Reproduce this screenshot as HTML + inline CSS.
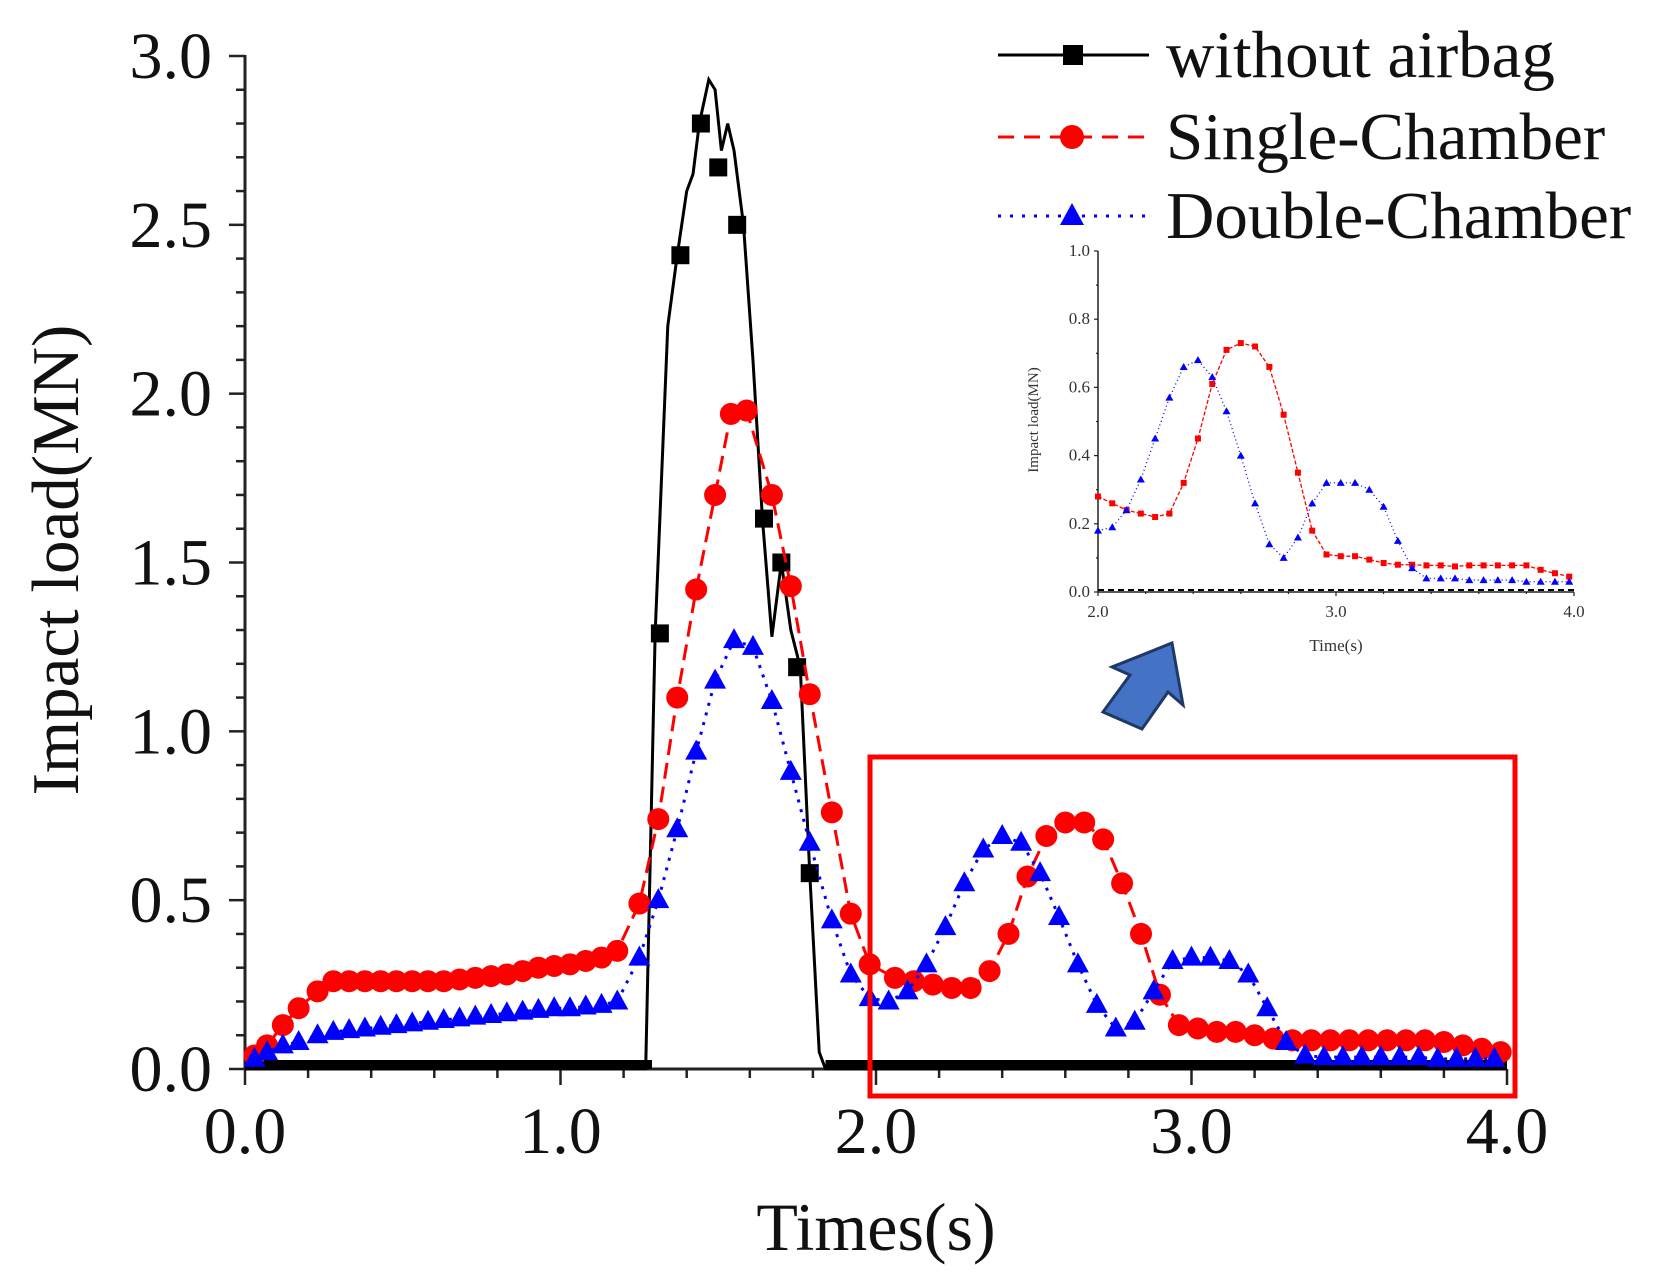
<!DOCTYPE html>
<html><head><meta charset="utf-8"><style>
html,body{margin:0;padding:0;background:#fff;width:1653px;height:1282px;overflow:hidden}
svg{display:block;font-family:"Liberation Serif",serif}
</style></head><body>
<svg id="chart" width="1653" height="1282" viewBox="0 0 1653 1282" xmlns="http://www.w3.org/2000/svg"></svg>
<script>
// ---- data ----
const blackT = [0,1.27,1.30,1.34,1.37,1.40,1.42,1.44,1.47,1.49,1.51,1.53,1.55,1.58,1.61,1.64,1.67,1.70,1.73,1.76,1.79,1.82,1.84,4.0];
const blackV = [0,0,1.29,2.2,2.41,2.6,2.65,2.8,2.93,2.9,2.72,2.8,2.72,2.5,2.1,1.63,1.28,1.5,1.3,1.19,0.58,0.05,0,0];
const blackMarkT = [1.315,1.38,1.445,1.50,1.56,1.645,1.70,1.75,1.79];
const blackMarkV = [1.29,2.41,2.80,2.67,2.50,1.63,1.50,1.19,0.58];
const redT = [0.03,0.07,0.12,0.17,0.23,0.28,0.33,0.38,0.43,0.48,0.53,0.58,0.63,0.68,0.73,0.78,0.83,0.88,0.93,0.98,1.03,1.08,1.13,1.18,1.25,1.31,1.37,1.43,1.49,1.54,1.59,1.67,1.73,1.79,1.86,1.92,1.98,2.06,2.12,2.18,2.24,2.30,2.36,2.42,2.48,2.54,2.60,2.66,2.72,2.78,2.84,2.90,2.96,3.02,3.08,3.14,3.20,3.26,3.32,3.38,3.44,3.50,3.56,3.62,3.68,3.74,3.80,3.86,3.92,3.98];
const redV = [0.04,0.07,0.13,0.18,0.23,0.26,0.26,0.26,0.26,0.26,0.26,0.26,0.26,0.265,0.27,0.275,0.28,0.29,0.30,0.305,0.31,0.32,0.33,0.35,0.49,0.74,1.10,1.42,1.70,1.94,1.95,1.70,1.43,1.11,0.76,0.46,0.31,0.27,0.26,0.25,0.24,0.24,0.29,0.40,0.57,0.69,0.73,0.73,0.68,0.55,0.40,0.22,0.13,0.12,0.11,0.11,0.10,0.09,0.085,0.085,0.085,0.085,0.085,0.085,0.085,0.085,0.08,0.07,0.06,0.05];
const blueT = [0.03,0.07,0.12,0.17,0.23,0.28,0.33,0.38,0.43,0.48,0.53,0.58,0.63,0.68,0.73,0.78,0.83,0.88,0.93,0.98,1.03,1.08,1.13,1.18,1.25,1.31,1.37,1.43,1.49,1.55,1.61,1.67,1.73,1.79,1.86,1.92,1.98,2.04,2.10,2.16,2.22,2.28,2.34,2.40,2.46,2.52,2.58,2.64,2.70,2.76,2.82,2.88,2.94,3.00,3.06,3.12,3.18,3.24,3.30,3.36,3.42,3.48,3.54,3.60,3.66,3.72,3.78,3.84,3.90,3.96];
const blueV = [0.03,0.05,0.07,0.08,0.10,0.11,0.115,0.12,0.125,0.13,0.135,0.14,0.145,0.15,0.155,0.16,0.165,0.17,0.175,0.18,0.18,0.185,0.19,0.20,0.33,0.50,0.71,0.94,1.15,1.27,1.25,1.09,0.88,0.67,0.44,0.28,0.21,0.20,0.23,0.31,0.42,0.55,0.65,0.69,0.67,0.58,0.45,0.31,0.19,0.12,0.14,0.23,0.32,0.33,0.33,0.32,0.28,0.18,0.08,0.04,0.035,0.035,0.035,0.035,0.035,0.035,0.03,0.03,0.03,0.03];
const insetRedT = [2.0,2.06,2.12,2.18,2.24,2.30,2.36,2.42,2.48,2.54,2.60,2.66,2.72,2.78,2.84,2.90,2.96,3.02,3.08,3.14,3.20,3.26,3.32,3.38,3.44,3.50,3.56,3.62,3.68,3.74,3.80,3.86,3.92,3.98];
const insetRedV = [0.28,0.26,0.24,0.23,0.22,0.23,0.32,0.45,0.61,0.71,0.73,0.72,0.66,0.52,0.35,0.18,0.11,0.105,0.105,0.095,0.085,0.08,0.08,0.078,0.078,0.075,0.078,0.078,0.078,0.078,0.078,0.065,0.055,0.045];
const insetBlueT = [2.0,2.06,2.12,2.18,2.24,2.30,2.36,2.42,2.48,2.54,2.60,2.66,2.72,2.78,2.84,2.90,2.96,3.02,3.08,3.14,3.20,3.26,3.32,3.38,3.44,3.50,3.56,3.62,3.68,3.74,3.80,3.86,3.92,3.98];
const insetBlueV = [0.18,0.19,0.24,0.33,0.45,0.57,0.66,0.68,0.63,0.53,0.40,0.26,0.14,0.10,0.16,0.26,0.32,0.32,0.32,0.30,0.25,0.15,0.07,0.04,0.04,0.04,0.035,0.035,0.035,0.035,0.03,0.03,0.03,0.03];
const yTicks = ["0.0","0.5","1.0","1.5","2.0","2.5","3.0"];
const xTicks = ["0.0","1.0","2.0","3.0","4.0"];
const insetYTicks = ["0.0","0.2","0.4","0.6","0.8","1.0"];
const insetXTicks = ["2.0","3.0","4.0"];

const NS="http://www.w3.org/2000/svg";
const svg=document.getElementById('chart');
function mk(tag,attrs,parent){const e=document.createElementNS(NS,tag);for(const k in attrs)e.setAttribute(k,attrs[k]);(parent||svg).appendChild(e);return e;}

const X0=245,X1=1507,Y0=1069,Y1=56;
const sx=t=>X0+(t-0)/4*(X1-X0);
const sy=v=>Y0-(v/3)*(Y0-Y1);

const ax=mk('g',{});


mk('line',{x1:X0,y1:Y0,x2:X0,y2:Y1-1,stroke:'#222','stroke-width':3},ax);
mk('line',{x1:X0,y1:Y0,x2:X1,y2:Y0,stroke:'#222','stroke-width':3},ax);
for(let i=0;i<=30;i++){const y=sy(i*0.1);const L=i%5==0?16:9;mk('line',{x1:X0-L,y1:y,x2:X0,y2:y,stroke:'#222','stroke-width':2.5},ax);}
for(let i=0;i<=20;i++){const x=sx(i*0.2);const L=i%5==0?16:9;mk('line',{x1:x,y1:Y0,x2:x,y2:Y0+L,stroke:'#222','stroke-width':2.5},ax);}
yTicks.forEach(s=>{const t=mk('text',{x:X0-33,y:sy(parseFloat(s))+22,'text-anchor':'end','font-size':66,fill:'#111'},ax);t.textContent=s;

});
xTicks.forEach(s=>{const t=mk('text',{x:sx(parseFloat(s)),y:Y0+84,'text-anchor':'middle','font-size':66,fill:'#111'},ax);t.textContent=s;

});
const yt=mk('text',{x:0,y:0,transform:'translate(78,560) rotate(-90)','text-anchor':'middle','font-size':67,fill:'#111'});yt.textContent='Impact load(MN)';


const xt=mk('text',{x:876,y:1250,'text-anchor':'middle','font-size':68,fill:'#111'});xt.textContent='Times(s)';



function poly(T,V,fx,fy,attrs,name,parent){const p=mk('polyline',Object.assign({points:T.map((t,i)=>fx(t)+','+fy(V[i])).join(' '),fill:'none'},attrs),parent);

return p;}

const gB=mk('g',{});


mk('rect',{x:sx(0),y:sy(0)-9,width:sx(1.29)-sx(0),height:9,fill:'#000'},gB);
mk('rect',{x:sx(1.84),y:sy(0)-9,width:sx(4)-sx(1.84),height:9,fill:'#000'},gB);
poly(blackT,blackV,sx,sy,{stroke:'#000','stroke-width':3},'line-without-airbag',gB);
blackMarkT.forEach((t,i)=>{const r=mk('rect',{x:sx(t)-9,y:sy(blackMarkV[i])-9,width:18,height:18,fill:'#000'},gB);

});

const gR=mk('g',{});


poly(redT,redV,sx,sy,{stroke:'#f00','stroke-width':3,'stroke-dasharray':'16 8'},'line-single-chamber',gR);
redT.forEach((t,i)=>{const c=mk('circle',{cx:sx(t),cy:sy(redV[i]),r:11,fill:'#f00'},gR);

});

const gU=mk('g',{});


poly(blueT,blueV,sx,sy,{stroke:'#00f','stroke-width':3,'stroke-dasharray':'3 7'},'line-double-chamber',gU);
blueT.forEach((t,i)=>{const x=sx(t),y=sy(blueV[i]);const p=mk('polygon',{points:`${x},${y-12} ${x-11},${y+8} ${x+11},${y+8}`,fill:'#00f'},gU);

});

const box=mk('rect',{x:870,y:757,width:645,height:339,fill:'none',stroke:'#f00','stroke-width':5});



const lg=mk('g',{});


const L=[['without airbag','#000','',55],['Single-Chamber','#f00','16 10',137],['Double-Chamber','#00f','3 9',216]];
L.forEach((e,i)=>{const y=e[3];mk('line',{x1:998,y1:y,x2:1149,y2:y,stroke:e[1],'stroke-width':3,'stroke-dasharray':e[2]},lg);
if(i==0)mk('rect',{x:1063,y:y-10,width:20,height:20,fill:'#000'},lg);
if(i==1)mk('circle',{cx:1072,cy:y,r:12,fill:'#f00'},lg);
if(i==2)mk('polygon',{points:`1072,${y-13} 1060,${y+9} 1084,${y+9}`,fill:'#00f'},lg);
const t=mk('text',{x:1166,y:y+22,'font-size':67,fill:'#111'},lg);t.textContent=e[0];

});

const IX0=1098,IX1=1574,IY0=592,IY1=251;
const ix=t=>IX0+(t-2)/2*(IX1-IX0);
const iy=v=>IY0-v*(IY0-IY1);
const ig=mk('g',{});


mk('line',{x1:IX0,y1:IY0,x2:IX0,y2:IY1,stroke:'#222','stroke-width':1.5},ig);
mk('line',{x1:IX0,y1:IY0,x2:IX1,y2:IY0,stroke:'#222','stroke-width':1.5},ig);
for(let i=0;i<=10;i++){const y=iy(i*0.1);mk('line',{x1:IX0-(i%2?2:4),y1:y,x2:IX0,y2:y,stroke:'#222','stroke-width':1.2},ig);}
for(let i=0;i<=10;i++){const x=ix(2+i*0.2);mk('line',{x1:x,y1:IY0,x2:x,y2:IY0+(i%5?2:4),stroke:'#222','stroke-width':1.2},ig);}
insetYTicks.forEach(s=>{const t=mk('text',{x:IX0-8,y:iy(parseFloat(s))+5,'text-anchor':'end','font-size':17,fill:'#333'},ig);t.textContent=s;

});
insetXTicks.forEach(s=>{const t=mk('text',{x:ix(parseFloat(s)),y:IY0+25,'text-anchor':'middle','font-size':17,fill:'#333'},ig);t.textContent=s;

});
const iyt=mk('text',{x:0,y:0,transform:'translate(1038,420) rotate(-90)','text-anchor':'middle','font-size':15,fill:'#333'},ig);iyt.textContent='Impact load(MN)';


const ixt=mk('text',{x:1336,y:651,'text-anchor':'middle','font-size':17,fill:'#333'},ig);ixt.textContent='Time(s)';


mk('line',{x1:IX0,y1:iy(0)-2,x2:IX1,y2:iy(0)-2,stroke:'#000','stroke-width':2,'stroke-dasharray':'6 4'},ig);
poly(insetRedT,insetRedV,ix,iy,{stroke:'#f00','stroke-width':1.3,'stroke-dasharray':'4 2'},'inset-line-single-chamber',ig);
insetRedT.forEach((t,i)=>{const r=mk('rect',{x:ix(t)-3,y:iy(insetRedV[i])-3,width:6,height:6,fill:'#f00'},ig);

});
poly(insetBlueT,insetBlueV,ix,iy,{stroke:'#00f','stroke-width':1.3,'stroke-dasharray':'1 3'},'inset-line-double-chamber',ig);
insetBlueT.forEach((t,i)=>{const x=ix(t),y=iy(insetBlueV[i]);const p=mk('polygon',{points:`${x},${y-4} ${x-4},${y+3} ${x+4},${y+3}`,fill:'#00f'},ig);

});

const ar=mk('polygon',{points:'1172,643 1183,705 1168,692 1142,729 1103,712 1130,675 1112,667',fill:'#4472c4',stroke:'#1f3864','stroke-width':3,'stroke-linejoin':'miter'});


</script>
</body></html>
